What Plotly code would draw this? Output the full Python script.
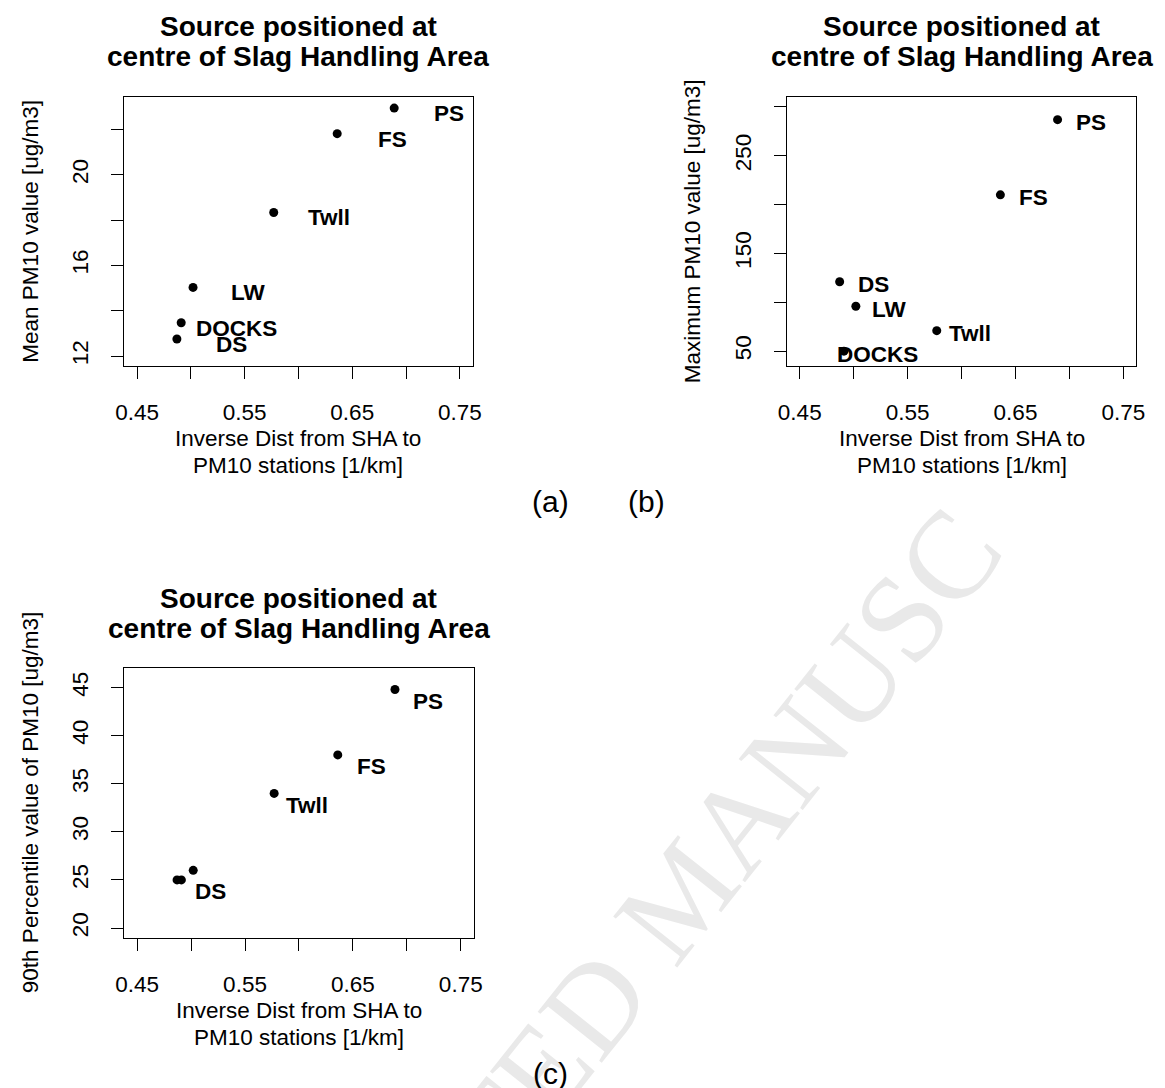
import plotly.graph_objects as go

# Stations and their inverse distance from the Slag Handling Area [1/km]
stations = ["PS", "FS", "Twll", "LW", "DOCKS", "DS"]
inv_dist = [0.689, 0.636, 0.577, 0.502, 0.491, 0.487]

# PM10 statistics per station [ug/m3]
pm10_mean = [22.95, 21.82, 18.34, 15.03, 13.47, 12.75]
pm10_max = [287, 210, 71, 96, 50, 121]
pm10_p90 = [44.8, 38, 34, 26, 25, 25]

# Stations labelled in the 90th percentile panel
p90_labelled = ["PS", "FS", "Twll", "DS"]

x_tickvals = [0.45, 0.50, 0.55, 0.60, 0.65, 0.70, 0.75]
x_ticktext = ["0.45", "", "0.55", "", "0.65", "", "0.75"]
mean_tickvals = [12, 14, 16, 18, 20, 22]
mean_ticktext = ["12", "", "16", "", "20", ""]
max_tickvals = [50, 100, 150, 200, 250, 300]
max_ticktext = ["50", "", "150", "", "250", ""]
p90_tickvals = [20, 25, 30, 35, 40, 45]
p90_ticktext = ["20", "25", "30", "35", "40", "45"]

TITLE = "Source positioned at", "centre of Slag Handling Area"
XTITLE = "Inverse Dist from SHA to", "PM10 stations [1/km]"

W, H = 1165, 1088
SANS = "Liberation Sans, Arial, sans-serif"


def px(x):
    return x / W


def py(y):
    return 1 - y / H


# panel boxes in pixels: (left, right, top, bottom)
boxes = {
    "a": (117, 471, 97, 366),
    "b": (790, 1145, 97, 366),
    "c": (117, 472, 668, 938),
}

fig = go.Figure()

panels = [
    ("a", "x", "y", pm10_mean, stations, 55, -5.5),
    ("b", "x2", "y2", pm10_max, stations, 33.5, -3),
    ("c", "x3", "y3", pm10_p90, p90_labelled, 33.3, -12),
]

annotations = []

# faint diagonal watermark behind everything else
annotations.append(dict(
    text="ACCEPTED MANUSC", x=px(598), y=py(1000), xref="paper", yref="paper",
    xanchor="center", yanchor="middle", showarrow=False, textangle=-51.5,
    font=dict(family="Liberation Serif, Times New Roman, serif", size=125,
              color="#e9e9e9"),
))

for key, xa, ya, values, labelled, dx, dy in panels:
    fig.add_trace(go.Scatter(
        x=inv_dist, y=values, mode="markers", xaxis=xa, yaxis=ya,
        marker=dict(color="black", size=9, line=dict(width=0)),
        showlegend=False, hoverinfo="skip",
    ))
    for name, xv, yv in zip(stations, inv_dist, values):
        if name not in labelled:
            continue
        annotations.append(dict(
            text=f"<b>{name}</b>", x=xv, y=yv, xref=xa, yref=ya,
            xshift=dx, yshift=dy, showarrow=False,
            xanchor="center", yanchor="middle",
            font=dict(family=SANS, size=22.5, color="black"),
        ))

    left, right, top, bottom = boxes[key]
    cx = (left + right) / 2
    # two-line bold title
    for i, line in enumerate(TITLE):
        annotations.append(dict(
            text=f"<b>{line}</b>", x=px(cx), y=py(top - 70 + 30 * i),
            xref="paper", yref="paper", showarrow=False,
            xanchor="center", yanchor="middle",
            font=dict(family=SANS, size=28, color="black"),
        ))
    # two-line x-axis title
    for i, line in enumerate(XTITLE):
        annotations.append(dict(
            text=line, x=px(cx), y=py(bottom + 72 + 27 * i),
            xref="paper", yref="paper", showarrow=False,
            xanchor="center", yanchor="middle",
            font=dict(family=SANS, size=22.5, color="black"),
        ))

ytitles = {
    "a": "Mean PM10 value [ug/m3]",
    "b": "Maximum PM10 value [ug/m3]",
    "c": "90th Percentile value of PM10 [ug/m3]",
}
for key, text in ytitles.items():
    left, right, top, bottom = boxes[key]
    annotations.append(dict(
        text=text, x=px(left - 95.5), y=py((top + bottom) / 2),
        xref="paper", yref="paper", showarrow=False, textangle=-90,
        xanchor="center", yanchor="middle",
        font=dict(family=SANS, size=22.5, color="black"),
    ))

# sub-figure tags
for tag, cx, cy in [("(a)", 550, 501), ("(b)", 647, 501), ("(c)", 550, 1073)]:
    annotations.append(dict(
        text=tag, x=px(cx), y=py(cy), xref="paper", yref="paper",
        showarrow=False, xanchor="center", yanchor="middle",
        font=dict(family=SANS, size=30, color="black"),
    ))

axis_common = dict(
    ticks="outside", ticklen=12, tickwidth=1, tickcolor="black",
    showline=True, linecolor="black", linewidth=1, mirror=True,
    showgrid=False, zeroline=False,
    tickfont=dict(family=SANS, size=22.5, color="black"),
)


def xaxis(key, anchor):
    left, right, top, bottom = boxes[key]
    return dict(axis_common, domain=[px(left), px(right)], anchor=anchor,
                range=[0.438, 0.762], tickvals=x_tickvals,
                ticktext=x_ticktext, ticklabelstandoff=14)


def yaxis(key, anchor, rng, vals, text):
    left, right, top, bottom = boxes[key]
    return dict(axis_common, domain=[py(bottom), py(top)], anchor=anchor,
                range=rng, tickvals=vals, ticktext=text, tickangle=-90,
                ticklabelstandoff=14)


fig.update_layout(
    width=W, height=H, autosize=False,
    margin=dict(l=0, r=0, t=0, b=0),
    paper_bgcolor="white", plot_bgcolor="white",
    xaxis=xaxis("a", "y"),
    yaxis=yaxis("a", "x", [11.56, 23.44], mean_tickvals, mean_ticktext),
    xaxis2=xaxis("b", "y2"),
    yaxis2=yaxis("b", "x2", [34.8, 310.2], max_tickvals, max_ticktext),
    xaxis3=xaxis("c", "y3"),
    yaxis3=yaxis("c", "x3", [18.96, 47.04], p90_tickvals, p90_ticktext),
    annotations=annotations,
)

fig.write_html("out.html")
